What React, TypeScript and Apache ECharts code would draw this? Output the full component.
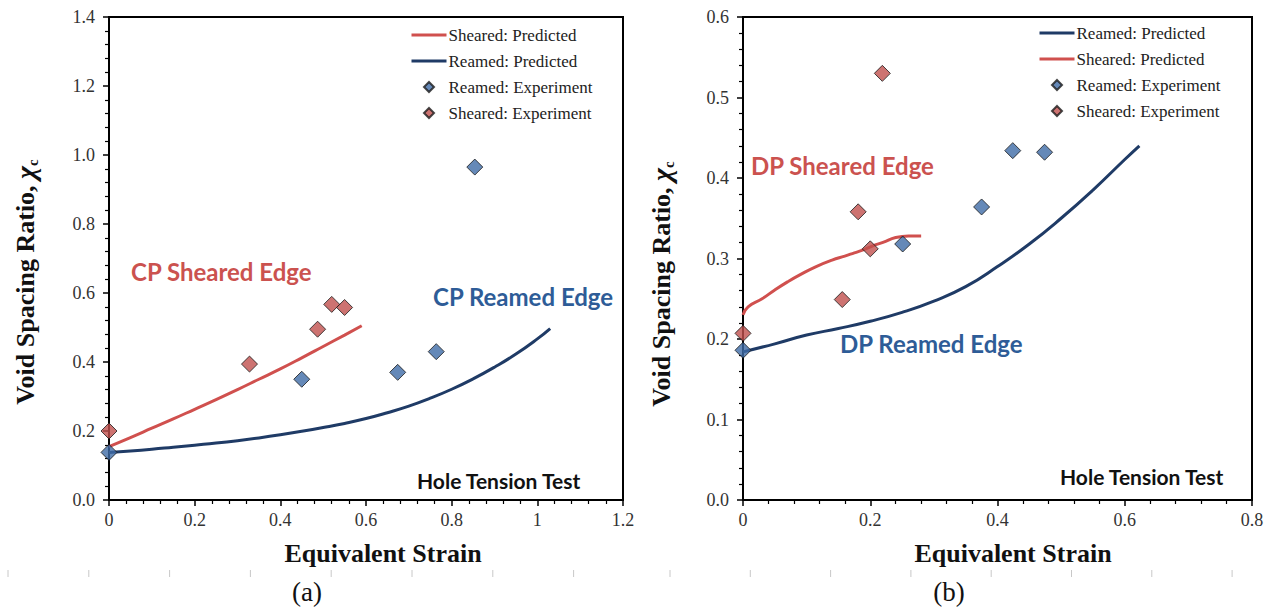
import React, { useEffect, useRef } from "react";
import * as echarts from "echarts";

// ---------- Panel (a): CP steel ----------
const cpShearedPredX = [0, 0.05, 0.1, 0.15, 0.2, 0.25, 0.3, 0.35, 0.4, 0.45, 0.5, 0.55, 0.59];
const cpShearedPredY = [0.155, 0.181, 0.208, 0.235, 0.263, 0.291, 0.32, 0.35, 0.38, 0.412, 0.445, 0.478, 0.505];
const cpReamedPredX = [0, 0.05, 0.1, 0.15, 0.2, 0.25, 0.3, 0.35, 0.4, 0.45, 0.5, 0.55, 0.6, 0.65, 0.7, 0.75, 0.8, 0.85, 0.9, 0.95, 1.0, 1.03];
const cpReamedPredY = [0.138, 0.142, 0.147, 0.153, 0.159, 0.165, 0.172, 0.18, 0.189, 0.199, 0.21, 0.222, 0.236, 0.253, 0.272, 0.295, 0.321, 0.351, 0.385, 0.423, 0.467, 0.497];
const cpReamedExpX = [0, 0.45, 0.674, 0.764, 0.854];
const cpReamedExpY = [0.138, 0.35, 0.37, 0.43, 0.965];
const cpShearedExpX = [0, 0.328, 0.487, 0.52, 0.55];
const cpShearedExpY = [0.2, 0.394, 0.495, 0.567, 0.558];

// ---------- Panel (b): DP steel ----------
const dpReamedPredX = [0, 0.05, 0.1, 0.15, 0.2, 0.25, 0.3, 0.35, 0.4, 0.45, 0.5, 0.55, 0.6, 0.623];
const dpReamedPredY = [0.184, 0.194, 0.205, 0.213, 0.222, 0.233, 0.247, 0.265, 0.29, 0.318, 0.35, 0.385, 0.423, 0.44];
const dpShearedPredX = [0, 0.008, 0.03, 0.05, 0.07, 0.09, 0.115, 0.14, 0.16, 0.175, 0.19, 0.205, 0.22, 0.24, 0.26, 0.28];
const dpShearedPredY = [0.23, 0.24, 0.25, 0.261, 0.271, 0.28, 0.29, 0.298, 0.303, 0.307, 0.311, 0.316, 0.32, 0.326, 0.328, 0.328];
const dpReamedExpX = [0, 0.251, 0.375, 0.424, 0.474];
const dpReamedExpY = [0.186, 0.318, 0.364, 0.434, 0.432];
const dpShearedExpX = [0, 0.156, 0.181, 0.2, 0.219];
const dpShearedExpY = [0.207, 0.249, 0.358, 0.312, 0.53];

const legendA = ["Sheared: Predicted", "Reamed: Predicted", "Reamed: Experiment", "Sheared: Experiment"];
const legendB = ["Reamed: Predicted", "Sheared: Predicted", "Reamed: Experiment", "Sheared: Experiment"];

const RED_LINE = "#D0504E";
const BLUE_LINE = "#1F3B66";
const RED_PT = "#C0504D";
const BLUE_PT = "#3F6CA6";
const RED_TXT = "#CB524F";
const BLUE_TXT = "#2E5C97";

const zip = (xs: number[], ys: number[]) => xs.map((x, i) => [x, ys[i]]);

const SERIF = "Liberation Serif";
const SANS = "Lato";

const DIAMOND_ICON = "path://M5,0L10,5L5,10L0,5Z";

const tickRich = {
  s: { fontFamily: SERIF, fontSize: 18, color: "#333", fill: "#333" },
};

const fmtX = (v: number) => `{s|${+v.toFixed(2)}}`;
const fmtY = (v: number) => `{s|${v.toFixed(1)}}`;

function axisX(gridIndex: number, max: number) {
  return {
    type: "value",
    gridIndex,
    min: 0,
    max,
    interval: 0.2,
    axisLine: { show: true, lineStyle: { color: "#000", width: 2 } },
    axisTick: { show: true, length: 6, lineStyle: { color: "#000", width: 1.5 } },
    minorTick: { show: true, splitNumber: 5, length: 4, lineStyle: { color: "#000", width: 1.2 } },
    splitLine: { show: false },
    axisLabel: {
      color: "#333",
      fontFamily: SERIF,
      fontSize: 18,
      margin: 11,
      formatter: fmtX,
      rich: tickRich,
    },
  };
}

function axisY(gridIndex: number, max: number, interval: number) {
  return {
    type: "value",
    gridIndex,
    min: 0,
    max,
    interval,
    axisLine: { show: true, lineStyle: { color: "#000", width: 2 } },
    axisTick: { show: true, length: 6, lineStyle: { color: "#000", width: 1.5 } },
    minorTick: { show: true, splitNumber: 5, length: 4, lineStyle: { color: "#000", width: 1.2 } },
    splitLine: { show: false },
    axisLabel: {
      color: "#333",
      fontFamily: SERIF,
      fontSize: 18,
      margin: 14,
      formatter: fmtY,
      rich: tickRich,
    },
  };
}

function lineSeries(name: string, xi: number, xs: number[], ys: number[], color: string) {
  return {
    type: "line",
    name,
    xAxisIndex: xi,
    yAxisIndex: xi,
    data: zip(xs, ys),
    smooth: true,
    symbol: "none",
    showSymbol: false,
    lineStyle: { color, width: 3 },
    itemStyle: { color },
    z: 3,
  };
}

function scatterSeries(name: string, xi: number, xs: number[], ys: number[], color: string) {
  return {
    type: "scatter",
    name,
    xAxisIndex: xi,
    yAxisIndex: xi,
    data: zip(xs, ys),
    symbol: "diamond",
    symbolSize: 16,
    clip: false,
    itemStyle: { color, borderColor: "#1a1a1a", borderWidth: 1 },
    z: 5,
  };
}

function legendCfg(left: number, top: number, names: string[]) {
  return {
    orient: "vertical",
    left,
    top,
    padding: 0,
    itemWidth: 35,
    itemHeight: 10,
    itemGap: 8,
    data: names.map((n) =>
      n.indexOf("Predicted") >= 0
        ? { name: n, itemStyle: { opacity: 0, borderWidth: 0 } }
        : { name: n, icon: DIAMOND_ICON }
    ),
    selectedMode: false,
    lineStyle: { width: 3 },
    textStyle: { fontFamily: SERIF, fontSize: 17, color: "#222", lineHeight: 18, padding: [0, 0, 0, -3] },
  };
}

function note(x: number, y: number, text: string, color: string, size: number) {
  return {
    type: "text",
    x,
    y,
    style: {
      text,
      fill: color,
      font: `bold ${size}px ${SANS}`,
      align: "left",
      verticalAlign: "middle",
    },
    z: 10,
  };
}

function yTitle(x: number, y: number) {
  return {
    type: "text",
    x,
    y,
    rotation: Math.PI / 2,
    style: {
      text: "{a|Void Spacing Ratio, }{b|χ}{c|c}",
      align: "center",
      verticalAlign: "middle",
      fill: "#111",
      rich: {
        a: { fontFamily: SERIF, fontWeight: "bold", fontSize: 26, fill: "#111", lineHeight: 30 },
        b: { fontFamily: SERIF, fontWeight: "bold", fontStyle: "italic", fontSize: 28, fill: "#111", lineHeight: 30 },
        c: { fontFamily: SERIF, fontWeight: "bold", fontSize: 15, fill: "#111", lineHeight: 30, verticalAlign: "bottom", padding: [9, 0, 0, 0] },
      },
    },
    z: 10,
  };
}

function xTitle(x: number, y: number) {
  return {
    type: "text",
    x,
    y,
    style: {
      text: "Equivalent Strain",
      font: `bold 26px ${SERIF}`,
      fill: "#111",
      align: "center",
      verticalAlign: "middle",
    },
    z: 10,
  };
}

function caption(x: number, y: number, text: string) {
  return {
    type: "text",
    x,
    y,
    style: {
      text,
      font: `27px ${SERIF}`,
      fill: "#111",
      align: "center",
      verticalAlign: "middle",
    },
    z: 10,
  };
}

function ruler(start: number, step: number, count: number) {
  const out: any[] = [];
  for (let i = 0; i < count; i++) {
    const x = start + i * step;
    out.push({
      type: "line",
      shape: { x1: x, y1: 570, x2: x, y2: 577 },
      style: { stroke: "#c8c8c8", lineWidth: 1 },
      silent: true,
    });
  }
  return out;
}

export default function App() {
  const ref = useRef<HTMLDivElement>(null);
  useEffect(() => {
    if (!ref.current) return;
    const chart = echarts.init(ref.current, undefined, { renderer: "svg" });
    const option: any = {
      animation: false,
      backgroundColor: "#fff",
      textStyle: { fontFamily: SERIF },
      grid: [
        { left: 109, top: 17, width: 514, height: 483, show: true, borderColor: "#000", borderWidth: 2, backgroundColor: "transparent" },
        { left: 743, top: 17, width: 509, height: 483, show: true, borderColor: "#000", borderWidth: 2, backgroundColor: "transparent" },
      ],
      xAxis: [axisX(0, 1.2), axisX(1, 0.8)],
      yAxis: [axisY(0, 1.4, 0.2), axisY(1, 0.6, 0.1)],
      legend: [legendCfg(410, 26, legendA), legendCfg(1038, 24, legendB)],
      series: [
        lineSeries("Sheared: Predicted", 0, cpShearedPredX, cpShearedPredY, RED_LINE),
        lineSeries("Reamed: Predicted", 0, cpReamedPredX, cpReamedPredY, BLUE_LINE),
        scatterSeries("Reamed: Experiment", 0, cpReamedExpX, cpReamedExpY, BLUE_PT),
        scatterSeries("Sheared: Experiment", 0, cpShearedExpX, cpShearedExpY, RED_PT),
        lineSeries("Reamed: Predicted", 1, dpReamedPredX, dpReamedPredY, BLUE_LINE),
        lineSeries("Sheared: Predicted", 1, dpShearedPredX, dpShearedPredY, RED_LINE),
        scatterSeries("Reamed: Experiment", 1, dpReamedExpX, dpReamedExpY, BLUE_PT),
        scatterSeries("Sheared: Experiment", 1, dpShearedExpX, dpShearedExpY, RED_PT),
      ],
      graphic: [
        note(131, 271, "CP Sheared Edge", RED_TXT, 24),
        note(433, 296, "CP Reamed Edge", BLUE_TXT, 24),
        note(417, 480, "Hole Tension Test", "#111", 21),
        note(751, 165, "DP Sheared Edge", RED_TXT, 24),
        note(840, 343, "DP Reamed Edge", BLUE_TXT, 24),
        note(1060, 476, "Hole Tension Test", "#111", 21),
        yTitle(25, 282),
        yTitle(661, 284),
        xTitle(383, 553),
        xTitle(1013, 553),
        caption(307, 592, "(a)"),
        caption(949, 592, "(b)"),
        ...ruler(8, 80.8, 8),
        ...ruler(670, 80.3, 8),
      ],
    };
    chart.setOption(option);
    return () => chart.dispose();
  }, []);
  return (
    <div
      ref={ref}
      style={{ position: "absolute", left: 0, top: 0, width: 1274, height: 611, background: "#fff" }}
    />
  );
}
